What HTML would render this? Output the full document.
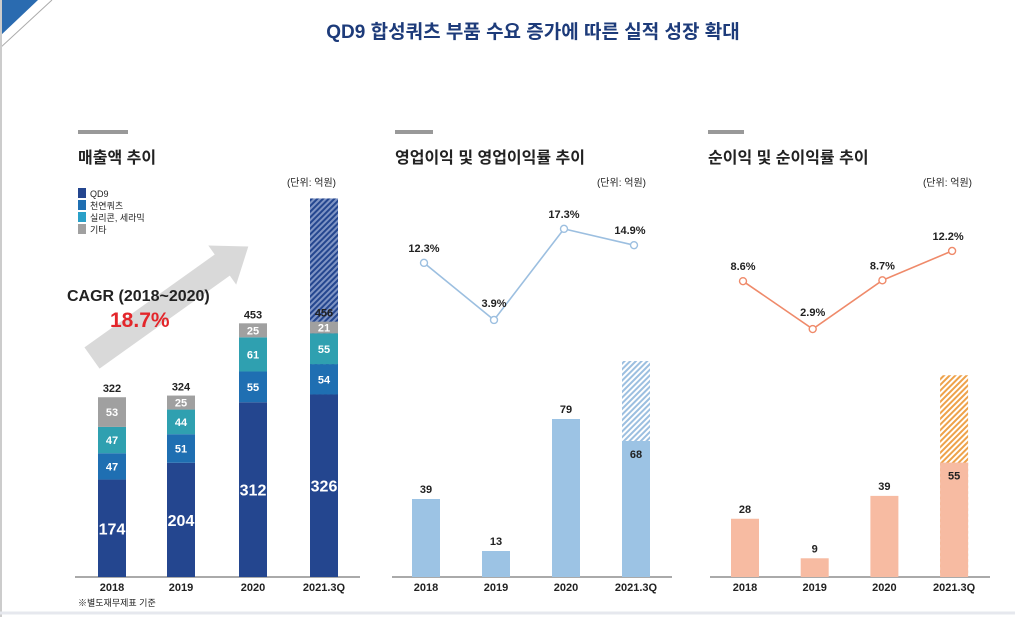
<!DOCTYPE html>
<html><head><meta charset="utf-8">
<style>
body{margin:0;width:1015px;height:617px;background:#fff;overflow:hidden;font-family:"Liberation Sans","Noto Sans CJK KR",sans-serif;}
svg text{font-family:"Liberation Sans","Noto Sans CJK KR",sans-serif;}
</style></head>
<body>
<svg id="s" width="1015" height="617" viewBox="0 0 1015 617" xmlns="http://www.w3.org/2000/svg">
<defs>
<pattern id="hb" width="4" height="4" patternUnits="userSpaceOnUse" patternTransform="rotate(45)"><rect width="4" height="4" fill="#7f94c4"/><rect width="2" height="4" fill="#24468f"/></pattern>
<pattern id="hl" width="4" height="4" patternUnits="userSpaceOnUse" patternTransform="rotate(45)"><rect width="4" height="4" fill="#fff"/><rect width="2" height="4" fill="#9cbfe0"/></pattern>
<pattern id="ho" width="4" height="4" patternUnits="userSpaceOnUse" patternTransform="rotate(45)"><rect width="4" height="4" fill="#fff"/><rect width="2" height="4" fill="#eea24a"/></pattern>
</defs>
<polygon points="0,0 38,0 0,36" fill="#2a6bb0"/>
<line x1="52" y1="0" x2="0" y2="48" stroke="#aaa" stroke-width="1"/>
<line x1="1" y1="0" x2="1" y2="617" stroke="#ccc" stroke-width="2"/>
<line x1="0" y1="613" x2="1015" y2="613" stroke="#e6e8ee" stroke-width="3"/>
<text x="533" y="38" text-anchor="middle" font-size="19" font-weight="bold" fill="#1d3b7a">QD9 합성쿼츠 부품 수요 증가에 따른 실적 성장 확대</text>

<rect x="78" y="130" width="50" height="4" fill="#999"/>
<text x="78" y="163" font-size="16" font-weight="bold" fill="#222">매출액 추이</text>
<rect x="395" y="130" width="38" height="4" fill="#999"/>
<text x="395" y="163" font-size="16" font-weight="bold" fill="#222">영업이익 및 영업이익률 추이</text>
<rect x="708" y="130" width="36" height="4" fill="#999"/>
<text x="708" y="163" font-size="16" font-weight="bold" fill="#222">순이익 및 순이익률 추이</text>

<text x="336" y="186" text-anchor="end" font-size="10" fill="#222">(단위: 억원)</text>
<text x="646" y="186" text-anchor="end" font-size="10" fill="#222">(단위: 억원)</text>
<text x="972" y="186" text-anchor="end" font-size="10" fill="#222">(단위: 억원)</text>

<g>
<rect x="78" y="188" width="8" height="10" fill="#24468f"/><text x="90" y="197" font-size="9" fill="#222">QD9</text>
<rect x="78" y="200" width="8" height="10" fill="#1f6fb2"/><text x="90" y="209" font-size="9" fill="#222">천연쿼츠</text>
<rect x="78" y="212" width="8" height="10" fill="#2aa0c8"/><text x="90" y="221" font-size="9" fill="#222">실리콘, 세라믹</text>
<rect x="78" y="224" width="8" height="10" fill="#a0a0a0"/><text x="90" y="233" font-size="9" fill="#222">기타</text>
</g>

<g transform="translate(92,358) rotate(-35.5)">
<polygon points="0,-13 160,-13 160,-24 192,0 160,24 160,13 0,13" fill="#d9d9d9"/>
</g>
<text x="67" y="301" font-size="16" font-weight="bold" fill="#222">CAGR (2018~2020)</text>
<text x="110" y="327" font-size="21" font-weight="bold" fill="#e3262b">18.7%</text>

<line x1="75" y1="577" x2="360" y2="577" stroke="#555" stroke-width="1"/>
<line x1="392" y1="577" x2="672" y2="577" stroke="#555" stroke-width="1"/>
<line x1="710" y1="577" x2="990" y2="577" stroke="#555" stroke-width="1"/>
<g id="g"></g>
<text x="78" y="606" font-size="9" fill="#222">※별도재무제표 기준</text>
</svg>
<script>
const categories = ["2018","2019","2020","2021.3Q"];
const salesQD9 = [174,204,312,326];
const salesNatural = [47,51,55,54];
const salesSilicon = [47,44,61,55];
const salesOther = [53,25,25,21];
const salesTotal = [322,324,453,456];
const salesForecast = [0,0,0,676];
const opProfit = [39,13,79,68];
const opForecast = [0,0,0,108];
const opMargin = [12.3,3.9,17.3,14.9];
const netProfit = [28,9,39,55];
const netForecast = [0,0,0,97];
const netMargin = [8.6,2.9,8.7,12.2];

const NS="http://www.w3.org/2000/svg", G=document.getElementById('g');
function mk(t,a,txt){const e=document.createElementNS(NS,t);for(const k in a)e.setAttribute(k,a[k]);if(txt!==undefined)e.textContent=txt;G.appendChild(e);return e;}
const base=577;
const x1=i=>[112,181,253,324][i];
const x2=i=>426+i*70;
const x3=i=>745+i*69.7;
const ys1=v=>v*0.56, ys2=v=>v*2.0, ys3=v=>v*2.08;
const yl2=v=>346.5-6.8*v, yl3=v=>353.4-8.4*v;

// sales
const segs=[[salesQD9,"#24468f","qd9"],[salesNatural,"#1f6fb2","natural"],[salesSilicon,"#2fa0b0","silicon"],[salesOther,"#a0a0a0","other"]];
categories.forEach((c,i)=>{
  const cx=x1(i);let y=base;
  if(salesForecast[i]){const h=ys1(salesForecast[i]);let e=mk('rect',{x:cx-14,y:base-h,width:28,height:h,fill:"url(#hb)"});
  
  }
  segs.forEach(([arr,col,nm])=>{
    const h=ys1(arr[i]);y-=h;
    let r=mk('rect',{x:cx-14,y:y,width:28,height:h,fill:col});
    
    
    const big=nm==="qd9";
    let t=mk('text',{x:cx,y:y+h/2+(big?6:4),"text-anchor":"middle","font-size":big?16:11,"font-weight":"bold",fill:"#fff"},arr[i]);
    
    
  });
  let t=mk('text',{x:cx,y:y-5,"text-anchor":"middle","font-size":11,"font-weight":"bold",fill:"#222"},salesTotal[i]);
  
  
  let l=mk('text',{x:cx,y:591,"text-anchor":"middle","font-size":11,"font-weight":"bold",fill:"#222"},c);
  
  
});

function barChart(vals,fc,marg,xf,ys,yl,col,hatch,lcol,pfx){
  let pts=[];
  categories.forEach((c,i)=>{
    const cx=xf(i);
    if(fc[i]){const h=ys(fc[i]);let e=mk('rect',{x:cx-14,y:base-h,width:28,height:h,fill:hatch});
      
      }
    const h=ys(vals[i]);
    let r=mk('rect',{x:cx-14,y:base-h,width:28,height:h,fill:col});
    
    
    const inside=!!fc[i];
    let t=mk('text',{x:cx,y:inside?base-h+17:base-h-6,"text-anchor":"middle","font-size":11,"font-weight":"bold",fill:"#222"},vals[i]);
    
    
    let l=mk('text',{x:cx,y:591,"text-anchor":"middle","font-size":11,"font-weight":"bold",fill:"#222"},c);
    
    
    pts.push([cx-2,yl(marg[i])]);
  });
  let p=mk('polyline',{points:pts.map(q=>q.join(',')).join(' '),fill:"none",stroke:lcol,"stroke-width":1.6});
  
  
  pts.forEach((q,i)=>{
    let c=mk('circle',{cx:q[0],cy:q[1],r:3.5,fill:"#fff",stroke:lcol,"stroke-width":1.4});
    
    
    let t=mk('text',{x:q[0]+(i==3?-4:0)+(i==1?0:0),y:q[1]-(i==1?13:11),"text-anchor":"middle","font-size":11,"font-weight":"bold",fill:"#222"},marg[i].toFixed(1)+"%");
    
    
  });
}
barChart(opProfit,opForecast,opMargin,x2,ys2,yl2,"#9cc3e4","url(#hl)","#9cbfe0","op");
barChart(netProfit,netForecast,netMargin,x3,ys3,yl3,"#f7bba2","url(#ho)","#ef8a6a","net");
</script>
</body></html>
